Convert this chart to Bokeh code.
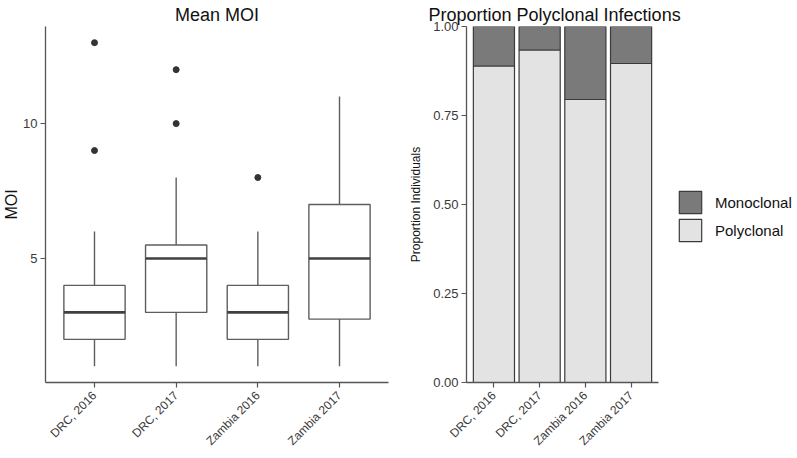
import math
from bokeh.plotting import figure
from bokeh.models import (ColumnDataSource, FactorRange, Range1d, FixedTicker,
                          Legend, LegendItem, NumeralTickFormatter)
from bokeh.layouts import row
from bokeh.transform import dodge
from bokeh.embed import file_html
from bokeh.resources import INLINE

# ---------------- data ----------------
groups = ["DRC, 2016", "DRC, 2017", "Zambia 2016", "Zambia 2017"]
moi_low = [1, 1, 1, 1]
moi_q1 = [2, 3, 2, 2.75]
moi_median = [3, 5, 3, 5]
moi_q3 = [4, 5.5, 4, 7]
moi_high = [6, 8, 6, 11]
outlier_group = ["DRC, 2016", "DRC, 2016", "DRC, 2017", "DRC, 2017", "Zambia 2016"]
outlier_moi = [9, 13, 10, 12, 8]
moi_ticks = [5, 10]

polyclonal = [0.889, 0.934, 0.795, 0.896]
monoclonal = [0.111, 0.066, 0.205, 0.104]
prop_ticks = [0, 0.25, 0.5, 0.75, 1.0]

FONT = "Liberation Sans"
AXIS_COL = "#555555"
TICK_TXT = "#3a3a3a"


def style_axes(p):
    p.xgrid.visible = False
    p.ygrid.visible = False
    p.outline_line_color = None
    for ax in (p.xaxis[0], p.yaxis[0]):
        ax.axis_line_color = AXIS_COL
        ax.axis_line_width = 1.3
        ax.major_tick_line_color = AXIS_COL
        ax.major_tick_line_width = 1.2
        ax.major_tick_in = 0
        ax.major_tick_out = 5
        ax.minor_tick_line_color = None
        ax.major_label_text_font = FONT
        ax.major_label_text_color = TICK_TXT
        ax.major_label_standoff = 3
        ax.axis_label_text_font = FONT
        ax.axis_label_text_font_style = "normal"
        ax.axis_label_text_color = "#111111"
    p.xaxis[0].major_label_text_font_size = "12px"
    p.xaxis[0].major_label_orientation = math.pi / 4
    p.xaxis[0].major_label_standoff = 6
    p.yaxis[0].major_label_text_font_size = "13px"
    p.title.text_font = FONT
    p.title.text_font_style = "normal"
    p.title.text_font_size = "18px"
    p.title.text_color = "#111111"
    p.title.standoff = 3


# ---------------- left: box plot ----------------
box_src = ColumnDataSource(dict(g=groups, low=moi_low, q1=moi_q1, med=moi_median,
                                q3=moi_q3, high=moi_high))
out_src = ColumnDataSource(dict(g=outlier_group, moi=outlier_moi))

p1 = figure(x_range=FactorRange(factors=groups, range_padding=0.1,
                                range_padding_units="absolute"),
            y_range=Range1d(0.4, 13.6),
            frame_width=343, frame_height=356,
            min_border_left=45, min_border_right=18,
            min_border_top=26, min_border_bottom=60,
            title="Mean MOI",
            output_backend="svg", toolbar_location=None)
style_axes(p1)
p1.title.align = "center"
p1.yaxis.ticker = FixedTicker(ticks=moi_ticks)
p1.yaxis.axis_label = "MOI"
p1.yaxis.axis_label_text_font_size = "16px"
p1.yaxis.axis_label_standoff = 0

BOX_COL = "#5e5e5e"
p1.segment(x0="g", y0="low", x1="g", y1="q1", source=box_src,
           line_color=BOX_COL, line_width=1.4)
p1.segment(x0="g", y0="q3", x1="g", y1="high", source=box_src,
           line_color=BOX_COL, line_width=1.4)
p1.vbar(x="g", width=0.75, bottom="q1", top="q3", source=box_src,
        fill_color="white", line_color=BOX_COL, line_width=1.4)
p1.segment(x0=dodge("g", -0.375, range=p1.x_range), y0="med",
           x1=dodge("g", 0.375, range=p1.x_range), y1="med",
           source=box_src, line_color="#404040", line_width=2.6)
p1.scatter(x="g", y="moi", source=out_src, size=6,
           fill_color="#333333", line_color="#333333")

# ---------------- right: stacked proportions ----------------
prop_src = ColumnDataSource(dict(g=groups, polyclonal=polyclonal, monoclonal=monoclonal))

p2 = figure(x_range=FactorRange(factors=groups, range_padding=0.1,
                                range_padding_units="absolute"),
            y_range=Range1d(0, 1),
            frame_width=192, frame_height=356,
            min_border_left=56, min_border_right=135,
            min_border_top=26, min_border_bottom=60,
            title="Proportion Polyclonal Infections",
            output_backend="svg", toolbar_location=None)
style_axes(p2)
p2.title.align = "left"
p2.title.offset = -38
p2.yaxis.ticker = FixedTicker(ticks=prop_ticks)
p2.yaxis.formatter = NumeralTickFormatter(format="0.00")
p2.yaxis.axis_label = "Proportion Individuals"
p2.yaxis.axis_label_text_font_size = "12px"
p2.yaxis.axis_label_standoff = 7

bars = p2.vbar_stack(["polyclonal", "monoclonal"], x="g", width=0.9, source=prop_src,
                     fill_color=["#e3e3e3", "#7a7a7a"],
                     line_color="#3a3a3a", line_width=1.2)

legend = Legend(items=[LegendItem(label="Monoclonal", renderers=[bars[1]]),
                       LegendItem(label="Polyclonal", renderers=[bars[0]])],
                location=(18, 138), orientation="vertical",
                glyph_width=28, glyph_height=28, spacing=0, padding=0, margin=0,
                label_standoff=11, label_text_font=FONT,
                label_text_font_size="15px", label_text_color="#111111",
                border_line_color=None, background_fill_color=None)
p2.add_layout(legend, "right")

layout = row(p1, p2)
open("out.html", "w").write(file_html(layout, INLINE))
